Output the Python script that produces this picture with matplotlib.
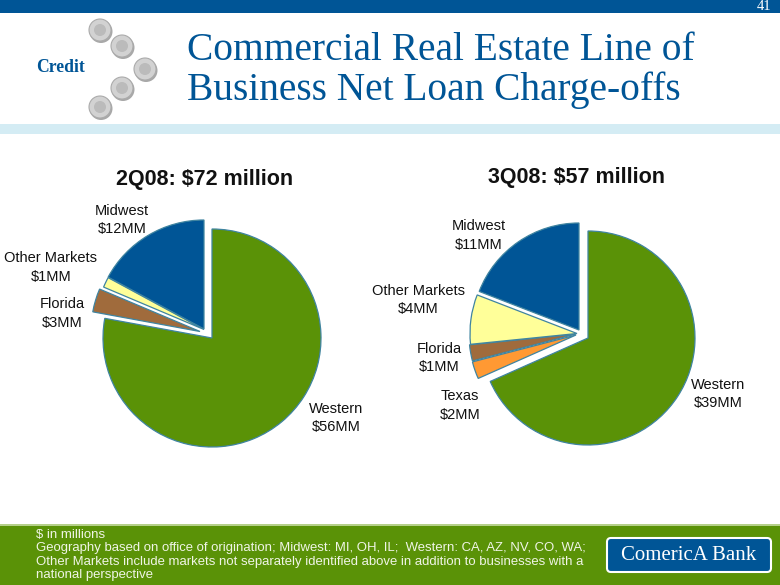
import matplotlib
matplotlib.use('Agg')
import matplotlib.pyplot as plt
from matplotlib.patches import Circle, FancyBboxPatch, Rectangle

# Pie data ($MM), clockwise from 12 o'clock
# slice sizes read off the drawn angles, printed labels are the rounded figures
names_2q = ['Western', 'Florida', 'Other Markets', 'Midwest']
values_2q = [56.0, 2.5, 1.1, 12.3]
printed_2q = ['$56MM', '$3MM', '$1MM', '$12MM']
names_3q = ['Western', 'Texas', 'Florida', 'Other Markets', 'Midwest']
values_3q = [39.3, 1.5, 1.4, 4.3, 11.0]
printed_3q = ['$39MM', '$2MM', '$1MM', '$4MM', '$11MM']

title_lines = ['Commercial Real Estate Line of', 'Business Net Loan Charge-offs']
title_2q = '2Q08: $72 million'
title_3q = '3Q08: $57 million'
footer_lines = ['$ in millions',
                'Geography based on office of origination; Midwest: MI, OH, IL;  Western: CA, AZ, NV, CO, WA;',
                'Other Markets include markets not separately identified above in addition to businesses with a',
                'national perspective']

# colours
BLUE = '#005596'
GREEN = '#5A9207'
colors = {'Western': GREEN, 'Texas': '#FF9933', 'Florida': '#A06B3C',
          'Other Markets': '#FFFF99', 'Midwest': BLUE}

W, H = 780.0, 585.0
plt.rcParams['font.family'] = ['Liberation Sans', 'DejaVu Sans']

fig = plt.figure(figsize=(7.8, 5.85), dpi=100, facecolor='white')

# background axes in pixel coordinates
bg = fig.add_axes([0, 0, 1, 1], zorder=0)
bg.set_xlim(0, W)
bg.set_ylim(H, 0)
bg.axis('off')

bg.add_patch(Rectangle((0, 0), W, 13, color=BLUE, lw=0))
bg.add_patch(Rectangle((0, 124), W, 10, color='#D4ECF4', lw=0))
bg.add_patch(Rectangle((0, 525), W, 60, color=GREEN, lw=0))
bg.add_patch(Rectangle((0, 524), W, 1.5, color='#B5D08A', lw=0))
bg.text(764, 7, '41', family='Liberation Serif', fontsize=10.5, color='white', ha='center', va='center')

# coins
for cx, cy in [(100, 30), (122, 46), (145, 69), (122, 88), (100, 107)]:
    bg.add_patch(Circle((cx + 1, cy + 1.5), 11.5, color='#A8A8A8', lw=0))
    bg.add_patch(Circle((cx, cy), 11, facecolor='#D2D2D2', edgecolor='#ABABAB', lw=0.8))
    bg.add_patch(Circle((cx, cy), 6, facecolor='#BBBBBB', edgecolor='none'))

bg.text(60.5, 67, 'Credit', family='Liberation Serif', fontsize=12.7, weight='bold',
        color=BLUE, ha='center', va='center')
for line, base in zip(title_lines, [60, 100]):
    bg.text(187, base, line, family='Liberation Serif', fontsize=28.4, color=BLUE,
            ha='left', va='baseline')

bg.text(205, 179, title_2q, fontsize=15.5, weight='bold', color='#111111', ha='center', va='center')
bg.text(577, 177, title_3q, fontsize=15.5, weight='bold', color='#111111', ha='center', va='center')


def draw_pie(cx, cy, r, values, names, shifts):
    # axes covers 2.5 radii, matching the limits pie() sets
    w = 2.5 * r
    ax = fig.add_axes([(cx - w / 2) / W, 1 - (cy + w / 2) / H, w / W, w / H], zorder=1)
    wedges, _ = ax.pie(values, colors=[colors[n] for n in names], startangle=90,
                       counterclock=False, wedgeprops={'edgecolor': '#3F84A0', 'linewidth': 0.9})
    # slices are pulled out up and left, not along their own middle, so explode= won't do
    for wedge, (dx, dy) in zip(wedges, shifts):
        wedge.set_center((dx / r, -dy / r))
    ax.set_xlim(-1.25, 1.25)
    ax.set_ylim(-1.25, 1.25)
    return ax


# pixel shifts of each slice apex
draw_pie(212, 338, 109, values_2q, names_2q, [(0, 0), (-12, -6.5), (-8, -8.5), (-8, -9)])
draw_pie(588, 338, 107, values_3q, names_3q, [(0, 0), (-12, -3), (-12, -4), (-11, -4.5), (-9, -8)])

# slice labels, text comes from the data arrays
labels_2q = {'Western': (336, 409), 'Florida': (62, 304), 'Other Markets': (51, 258), 'Midwest': (122, 211)}
labels_3q = {'Western': (718, 385), 'Texas': (460, 396), 'Florida': (439, 349),
             'Other Markets': (418, 291), 'Midwest': (479, 226)}
for names, printed, pos in [(names_2q, printed_2q, labels_2q), (names_3q, printed_3q, labels_3q)]:
    for name, amount in zip(names, printed):
        x, y = pos[name]
        bg.text(x, y, name, fontsize=10.5, color='#111111', ha='center', va='center')
        bg.text(x, y + 18.5, amount, fontsize=10.5, color='#111111', ha='center', va='center')

for line, y in zip(footer_lines, [535, 548, 562, 575]):
    bg.text(36, y, line, fontsize=9.45, color='#F0F5E6', ha='left', va='center')

# bank logo
bg.add_patch(FancyBboxPatch((609, 540), 160, 30, boxstyle='round,pad=2,rounding_size=4',
                            facecolor=BLUE, edgecolor='white', lw=1.5))
bg.text(689, 555, 'ComericA Bank', family='Liberation Serif', fontsize=15, color='white',
        ha='center', va='center')

plt.savefig('out.png', dpi=100)
plt.close()
